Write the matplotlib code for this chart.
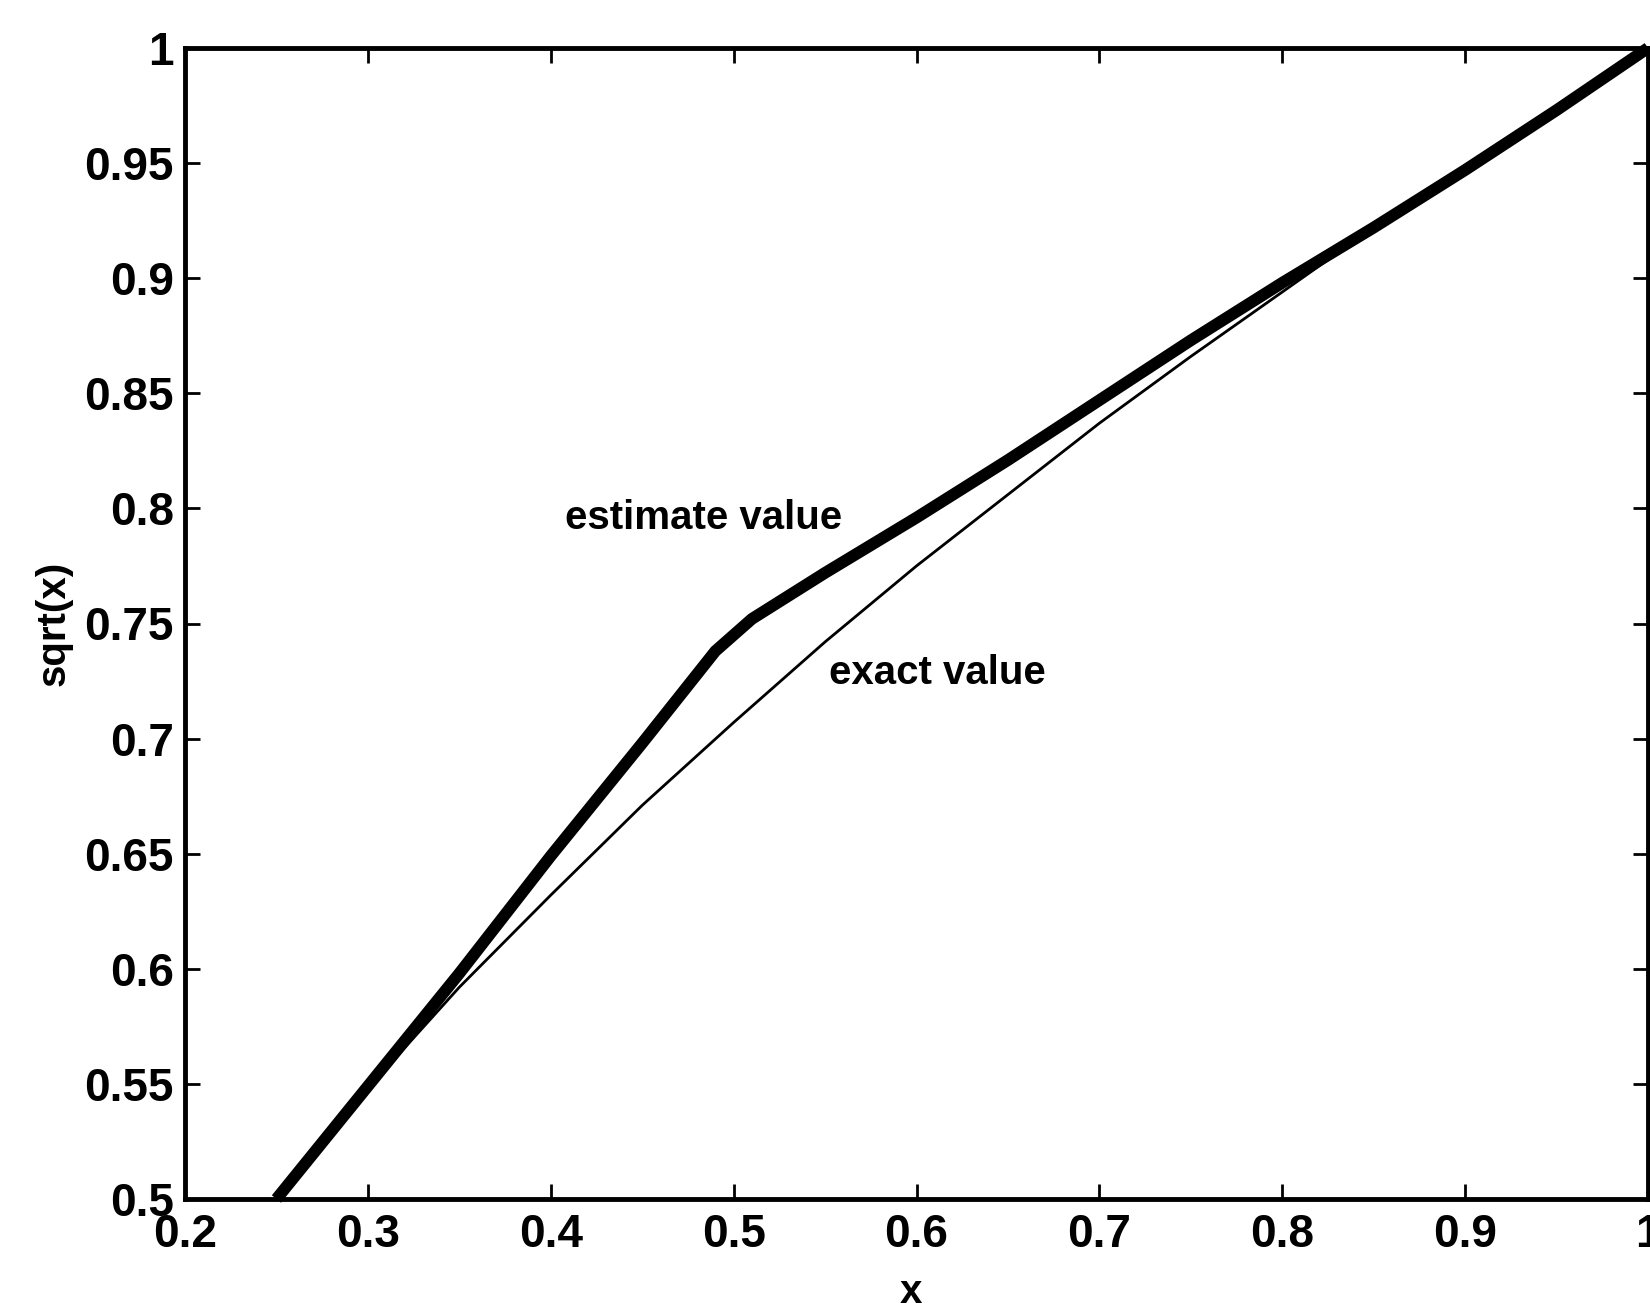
import matplotlib
matplotlib.use("Agg")
import matplotlib.pyplot as plt

# Data
x_exact = [0.25, 0.30, 0.35, 0.40, 0.45, 0.50, 0.55, 0.60, 0.65, 0.70, 0.75, 0.80, 0.85, 0.90, 0.95, 1.00]
y_exact = [0.500, 0.548, 0.592, 0.632, 0.671, 0.707, 0.742, 0.775, 0.806, 0.837, 0.866, 0.894, 0.922, 0.949, 0.975, 1.000]

x_est = [0.25, 0.30, 0.35, 0.40, 0.45, 0.49, 0.51, 0.53, 0.55, 0.60, 0.65, 0.70, 0.75, 0.80, 0.85, 0.90, 0.95, 1.00]
y_est = [0.500, 0.549, 0.598, 0.649, 0.698, 0.738, 0.752, 0.762, 0.772, 0.796, 0.821, 0.847, 0.873, 0.898, 0.922, 0.947, 0.973, 1.000]

x_ticks = [0.2, 0.3, 0.4, 0.5, 0.6, 0.7, 0.8, 0.9, 1.0]
x_ticklabels = ["0.2", "0.3", "0.4", "0.5", "0.6", "0.7", "0.8", "0.9", "1"]
y_ticks = [0.5, 0.55, 0.6, 0.65, 0.7, 0.75, 0.8, 0.85, 0.9, 0.95, 1.0]
y_ticklabels = ["0.5", "0.55", "0.6", "0.65", "0.7", "0.75", "0.8", "0.85", "0.9", "0.95", "1"]

labels = ["estimate value", "exact value"]
label_pos = [(0.408, 0.796), (0.552, 0.7285)]

plt.rcParams['font.family'] = ['Liberation Sans', 'DejaVu Sans']
plt.rcParams['font.weight'] = 'bold'

fig = plt.figure(figsize=(16.5, 13.03), dpi=100)
ax = fig.add_axes([185/1650, 1 - 1199/1303, (1648 - 185)/1650, (1199 - 48)/1303])

ax.plot(x_exact, y_exact, color='black', lw=2.0)
ax.plot(x_est, y_est, color='black', lw=8.5, clip_on=False, solid_capstyle='butt',
        solid_joinstyle='round')

for lab, (tx, ty) in zip(labels, label_pos):
    ax.text(tx, ty, lab, fontsize=29, ha='left', va='center', color='black', fontweight='bold')

ax.set_xlim(0.2, 1.0)
ax.set_ylim(0.5, 1.0)
ax.set_xticks(x_ticks)
ax.set_xticklabels(x_ticklabels, fontweight='bold')
ax.set_yticks(y_ticks)
ax.set_yticklabels(y_ticklabels, fontweight='bold')

ax.tick_params(axis='both', direction='in', length=11, width=2, labelsize=33,
               top=True, right=True, colors='black')
ax.tick_params(axis='x', pad=10)
ax.tick_params(axis='y', pad=8)
for s in ax.spines.values():
    s.set_linewidth(3.5)
    s.set_color('black')

ax.set_ylabel("sqrt(x)", fontsize=29, fontweight='bold')
ax.yaxis.set_label_coords(-0.077, 0.5)
ax.set_xlabel("x", fontsize=29, fontweight='bold')
ax.xaxis.set_label_coords(0.496, -0.064)

fig.savefig("out.png", dpi=100, facecolor='white')
